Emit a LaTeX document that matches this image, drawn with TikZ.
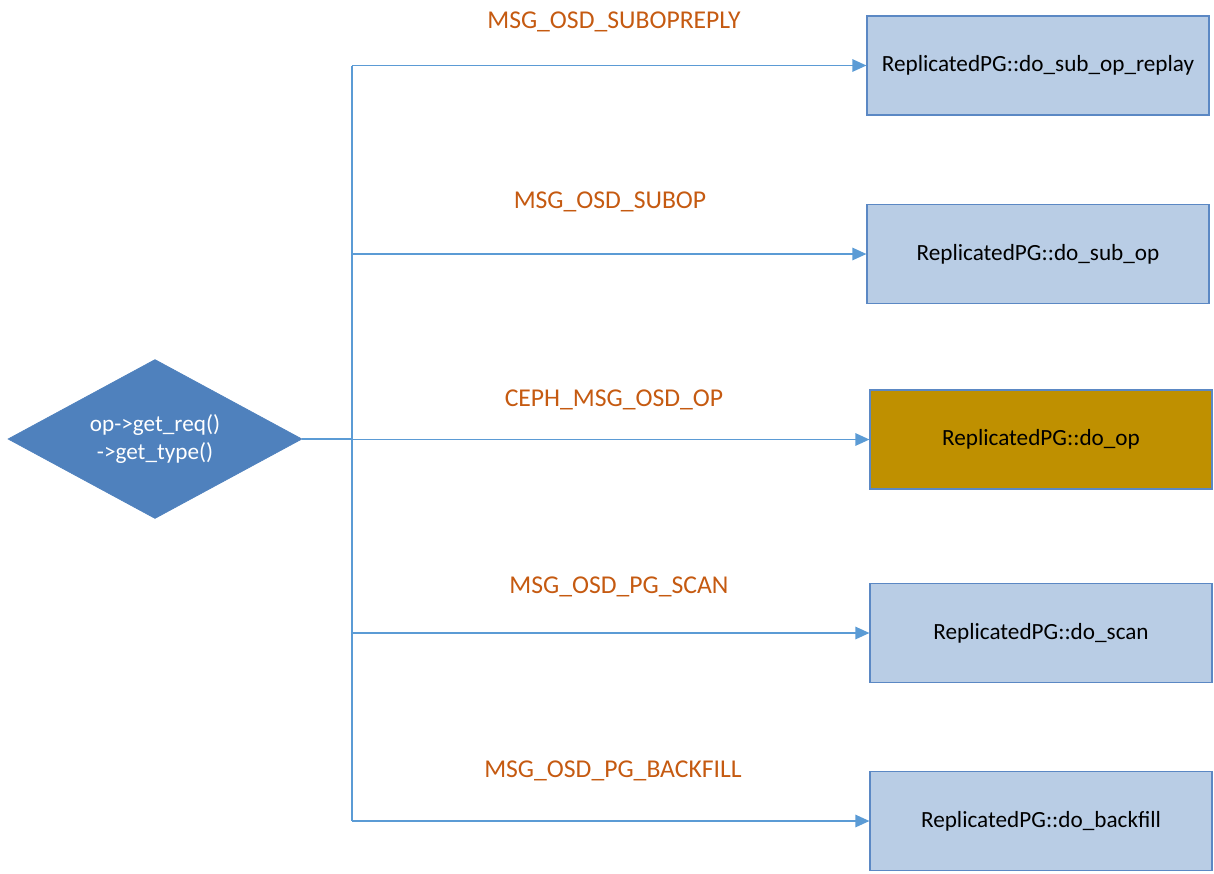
\documentclass[tikz,border=0pt]{standalone}
\usepackage{fontspec}
\setmainfont{Carlito}
\usepackage{tikz}
\usetikzlibrary{shapes.geometric, arrows.meta, positioning, calc}
\definecolor{decblue}{RGB}{79,129,189}
\definecolor{boxfill}{RGB}{185,205,229}
\definecolor{boxline}{RGB}{91,136,196}
\definecolor{linkblue}{RGB}{91,155,213}
\definecolor{msgorange}{RGB}{197,90,17}
\definecolor{opgold}{RGB}{191,144,0}
\tikzset{
  decision/.style={diamond, aspect=1.85, draw=decblue, fill=decblue, text=white,
    minimum width=5.88cm, minimum height=3.18cm, inner sep=0pt,
    align=center, font=\fontsize{13.2}{16}\selectfont},
  handler/.style={rectangle, draw=boxline, fill=boxfill,
    minimum width=6.84cm, minimum height=1.98cm, inner sep=0pt,
    font=\fontsize{13.2}{16}\selectfont, line width=0.6pt},
  goldhandler/.style={handler, fill=opgold},
  msglabel/.style={font=\fontsize{14.6}{17}\selectfont, text=msgorange},
  link/.style={color=linkblue, line width=1.1pt},
  arrow/.style={link, -{Triangle[length=8pt, width=7pt]}}
}

\begin{document}
\begin{tikzpicture}
  \useasboundingbox (0,0) rectangle (24.28,-17.46);

  % Dispatch decision
  \node[decision] (dec) at (3.10,-8.78) {op->get\_req()\\->get\_type()};

  % Handlers
  \node[handler]     (replay)   at (20.76,-1.31)  {ReplicatedPG::do\_sub\_op\_replay};
  \node[handler]     (subop)    at (20.76,-5.08)  {ReplicatedPG::do\_sub\_op};
  \node[goldhandler] (doop)     at (20.82,-8.79)  {ReplicatedPG::do\_op};
  \node[handler]     (scan)     at (20.82,-12.66) {ReplicatedPG::do\_scan};
  \node[handler]     (backfill) at (20.82,-16.42) {ReplicatedPG::do\_backfill};

  % Message types
  \node[msglabel] (lreplay)   at (12.28,-0.44)  {MSG\_OSD\_SUBOPREPLY};
  \node[msglabel] (lsubop)    at (12.20,-4.04)  {MSG\_OSD\_SUBOP};
  \node[msglabel] (ldoop)     at (12.28,-8.00)  {CEPH\_MSG\_OSD\_OP};
  \node[msglabel] (lscan)     at (12.38,-11.74) {MSG\_OSD\_PG\_SCAN};
  \node[msglabel] (lbackfill) at (12.26,-15.42) {MSG\_OSD\_PG\_BACKFILL};

  % Bus
  \coordinate (bus) at (7.04,-8.78);
  \draw[link] (dec.east) -- (bus);
  \draw[link] (bus |- replay.west) -- (bus |- backfill.west);

  % Branches
  \foreach \h in {replay, subop, doop, scan, backfill}
    \draw[arrow] (bus |- \h.west) -- (\h.west);
\end{tikzpicture}
\end{document}
